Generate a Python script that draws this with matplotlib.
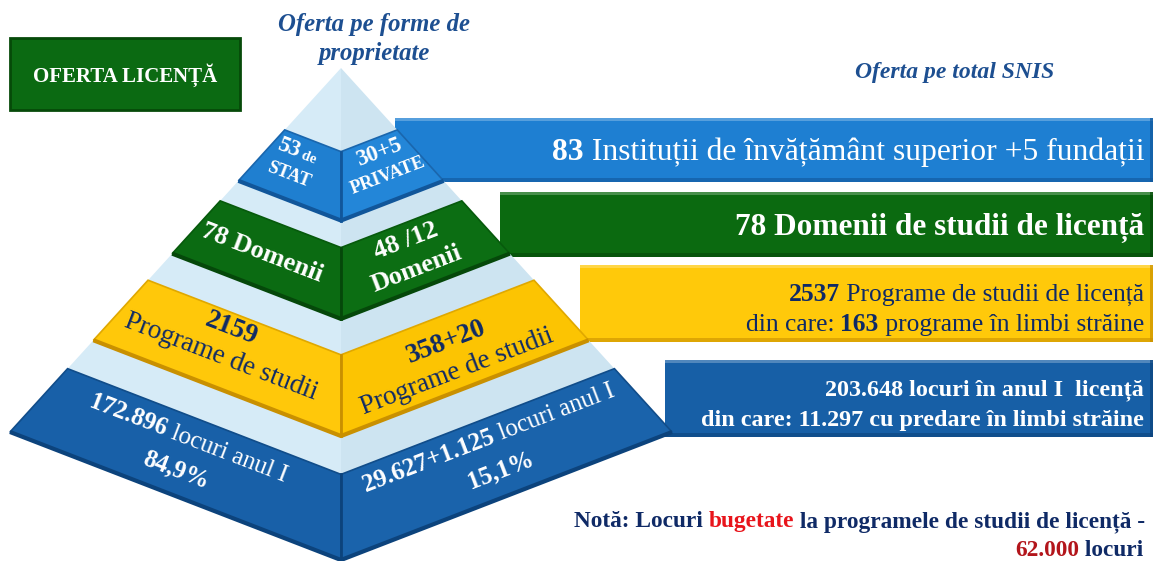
import numpy as np
import matplotlib
matplotlib.use("Agg")
import matplotlib.pyplot as plt
from matplotlib.patches import Polygon, Rectangle

SERIF = ["Liberation Serif", "DejaVu Serif"]
plt.rcParams["font.family"] = SERIF

#############################################
# Content
#############################################
title_box = "OFERTA LICENȚĂ"
title_left = ["Oferta pe forme de", "proprietate"]
title_right = "Oferta pe total SNIS"

# pyramid faces: (left face lines, right face lines); each line = list of (text, bold, size scale)
levels = ["institutii", "domenii", "programe", "locuri"]
left_face = [
    [[("53", True, 1.0), (" de", True, 0.65)], [("STAT", True, 0.8)]],
    [[("78 Domenii", True, 1.0)]],
    [[("2159", True, 1.0)], [("Programe de studii", False, 1.0)]],
    [[("172.896", True, 1.0), (" locuri anul I", False, 1.0)], [("84,9%", True, 1.0)]],
]
right_face = [
    [[("30+5", True, 1.0)], [("PRIVATE", True, 0.8)]],
    [[("48 /12", True, 1.0)], [("Domenii", True, 1.0)]],
    [[("358+20", True, 1.0)], [("Programe de studii", False, 1.0)]],
    [[("29.627+1.125", True, 1.0), (" locuri anul I", False, 1.0)], [("15,1%", True, 1.0)]],
]
bar_lines = [
    [[("83", True), (" Instituții de învățământ superior +5 fundații", False)]],
    [[("78 Domenii de studii de licență", True)]],
    [[("2537", True), (" Programe de studii de licență", False)],
     [("din care: ", False), ("163", True), (" programe în limbi străine", False)]],
    [[("203.648 locuri în anul I  licență", True)],
     [("din care: 11.297 cu predare în limbi străine", True)]],
]
note_lines = [
    [("Notă: Locuri ", "navy"), ("bugetate", "red"), (" la programele de studii de licență -", "navy")],
    [("62.000", "dred"), (" locuri", "navy")],
]

#############################################
# Styles
#############################################
NAVY = "#0f2a66"
TXT = {"navy": NAVY, "red": "#e8141b", "dred": "#b3151b"}
face_left = ["#1f7fd0", "#0b6b12", "#ffc80a", "#1860a8"]
face_right = ["#2386d8", "#0c6e13", "#fcc402", "#1a63ab"]
face_edge = ["#1a66ad", "#075a0c", "#e0a800", "#114d8a"]
face_shadow = ["#11569a", "#05480a", "#c99000", "#0c437c"]
text_col = ["white", "white", NAVY, "white"]
face_size = [16.5, 19, 19.5, 18]
band_t = [(0.17, 0.31), (0.365, 0.51), (0.583, 0.748), (0.826, 1.0)]
bar_col = ["#1e7fd2", "#0b6a10", "#ffc90a", "#175fa6"]
bar_text = ["white", "white", NAVY, "white"]
bar_size = [22.8, 22.5, 18.4, 17.4]
bar_x = [395, 500, 580, 665]
bar_y = [(118, 182), (192, 257), (265, 342), (360, 437)]

W, H = 1158, 561
fig = plt.figure(figsize=(W / 100, H / 100), dpi=100)
ax = fig.add_axes([0, 0, 1, 1])
ax.set_xlim(0, W)
ax.set_ylim(H, 0)
ax.axis("off")
renderer = fig.canvas.get_renderer()


def rich(x, y, parts, size, rot=0.0, ha="center", zorder=10):
    # parts: (text, weight, color, scale); x, y = baseline anchor in pixels
    widths = []
    for txt, bold, col, sc in parts:
        t = ax.text(0, 0, txt, fontsize=size * sc, fontweight="bold" if bold else "normal")
        widths.append(t.get_window_extent(renderer=renderer).width)
        t.remove()
    total = sum(widths)
    a = np.deg2rad(rot)
    dx, dy = np.cos(a), -np.sin(a)
    pos = {"center": -total / 2, "right": -total, "left": 0.0}[ha]
    for (txt, bold, col, sc), w in zip(parts, widths):
        c = pos + w / 2
        ax.text(x + c * dx, y + c * dy, txt, fontsize=size * sc,
                fontweight="bold" if bold else "normal", color=col,
                rotation=rot, rotation_mode="anchor", ha="center", va="baseline",
                zorder=zorder)
        pos += w


#############################################
# Bars on the right (behind the pyramid)
#############################################
for i in range(4):
    y0, y1 = bar_y[i]
    ax.add_patch(Rectangle((bar_x[i], y0), 1153 - bar_x[i], y1 - y0,
                           facecolor=bar_col[i], edgecolor="none", zorder=1))
    ax.add_patch(Rectangle((bar_x[i], y1 - 4), 1153 - bar_x[i], 4,
                           facecolor=face_shadow[i], alpha=0.6, edgecolor="none", zorder=1))
    ax.add_patch(Rectangle((bar_x[i], y0), 1153 - bar_x[i], 3,
                           facecolor="white", alpha=0.25, edgecolor="none", zorder=1))
    ax.add_patch(Rectangle((1150, y0), 3, y1 - y0,
                           facecolor=face_shadow[i], alpha=0.7, edgecolor="none", zorder=1))

    lines = bar_lines[i]
    if len(lines) == 1:
        ys = [(y0 + y1) / 2 + bar_size[i] * 0.45]
    else:
        mid = (y0 + y1) / 2
        ys = [mid - 3, mid + 27]
    for ln, yb in zip(lines, ys):
        rich(1144, yb, [(t, b, bar_text[i], 1.0) for t, b in ln], bar_size[i], ha="right")

#############################################
# Pyramid
#############################################
A = np.array([341.0, 68.0])
L = np.array([10.0, 432.0])
F = np.array([341.0, 560.0])
R = np.array([672.0, 432.0])


def pt(P, t):
    return A + t * (P - A)


ax.add_patch(Polygon([A, L, F], closed=True, facecolor="#d6ebf7", edgecolor="none", zorder=2))
ax.add_patch(Polygon([A, F, R], closed=True, facecolor="#cde4f1", edgecolor="none", zorder=2))

for i, (t0, t1) in enumerate(band_t):
    lf = [pt(L, t0), pt(F, t0), pt(F, t1), pt(L, t1)]
    rf = [pt(F, t0), pt(R, t0), pt(R, t1), pt(F, t1)]
    ax.add_patch(Polygon(lf, closed=True, facecolor=face_left[i], edgecolor=face_edge[i],
                         linewidth=1.2, zorder=3))
    ax.add_patch(Polygon(rf, closed=True, facecolor=face_right[i], edgecolor=face_edge[i],
                         linewidth=1.2, zorder=3))
    # bottom shadow of the slab
    ax.plot([pt(L, t1)[0], pt(F, t1)[0], pt(R, t1)[0]],
            [pt(L, t1)[1], pt(F, t1)[1], pt(R, t1)[1]],
            color=face_shadow[i], linewidth=3, zorder=4, solid_capstyle="butt")
    ax.plot([pt(F, t0)[0], pt(F, t1)[0]], [pt(F, t0)[1], pt(F, t1)[1]],
            color=face_shadow[i], linewidth=2, zorder=4)

# face label centres (pixels)
left_pos = [(291, 160), (260, 250), (224, 340), (180, 452)]
right_pos = [(385, 161), (414, 252), (454, 354), (497, 452)]
line_gap = [24, 30, 31, 34]

for i in range(4):
    for lines, (cx, cy), rot in ((left_face[i], left_pos[i], -21.0),
                                 (right_face[i], right_pos[i], 21.0)):
        a = np.deg2rad(rot)
        nx, ny = np.sin(a), np.cos(a)
        n = len(lines)
        for k, ln in enumerate(lines):
            off = (k - (n - 1) / 2) * line_gap[i]
            rich(cx + off * nx, cy + off * ny + face_size[i] * 0.45,
                 [(t, b, text_col[i], s) for t, b, s in ln], face_size[i], rot=rot)

#############################################
# Titles and note
#############################################
ax.add_patch(Rectangle((10, 38), 230, 72, facecolor="#0b6a12", edgecolor="#064a09",
                       linewidth=2, zorder=2))
ax.text(125, 75, title_box, fontsize=15, fontweight="bold", color="white",
        ha="center", va="center", zorder=5)

ax.text(374, 24, title_left[0], fontsize=17.8, fontweight="bold", style="italic",
        color="#1d4f91", ha="center", va="center", zorder=5)
ax.text(374, 53, title_left[1], fontsize=17.8, fontweight="bold", style="italic",
        color="#1d4f91", ha="center", va="center", zorder=5)
ax.text(955, 72, title_right, fontsize=17, fontweight="bold", style="italic",
        color="#1d4f91", ha="center", va="center", zorder=5)

rich(1145, 527, [(t, True, TXT[c], 1.0) for t, c in note_lines[0]], 16.8, ha="right")
rich(1143, 556, [(t, True, TXT[c], 1.0) for t, c in note_lines[1]], 16.8, ha="right")

fig.savefig("out.png", dpi=100, facecolor="white")
